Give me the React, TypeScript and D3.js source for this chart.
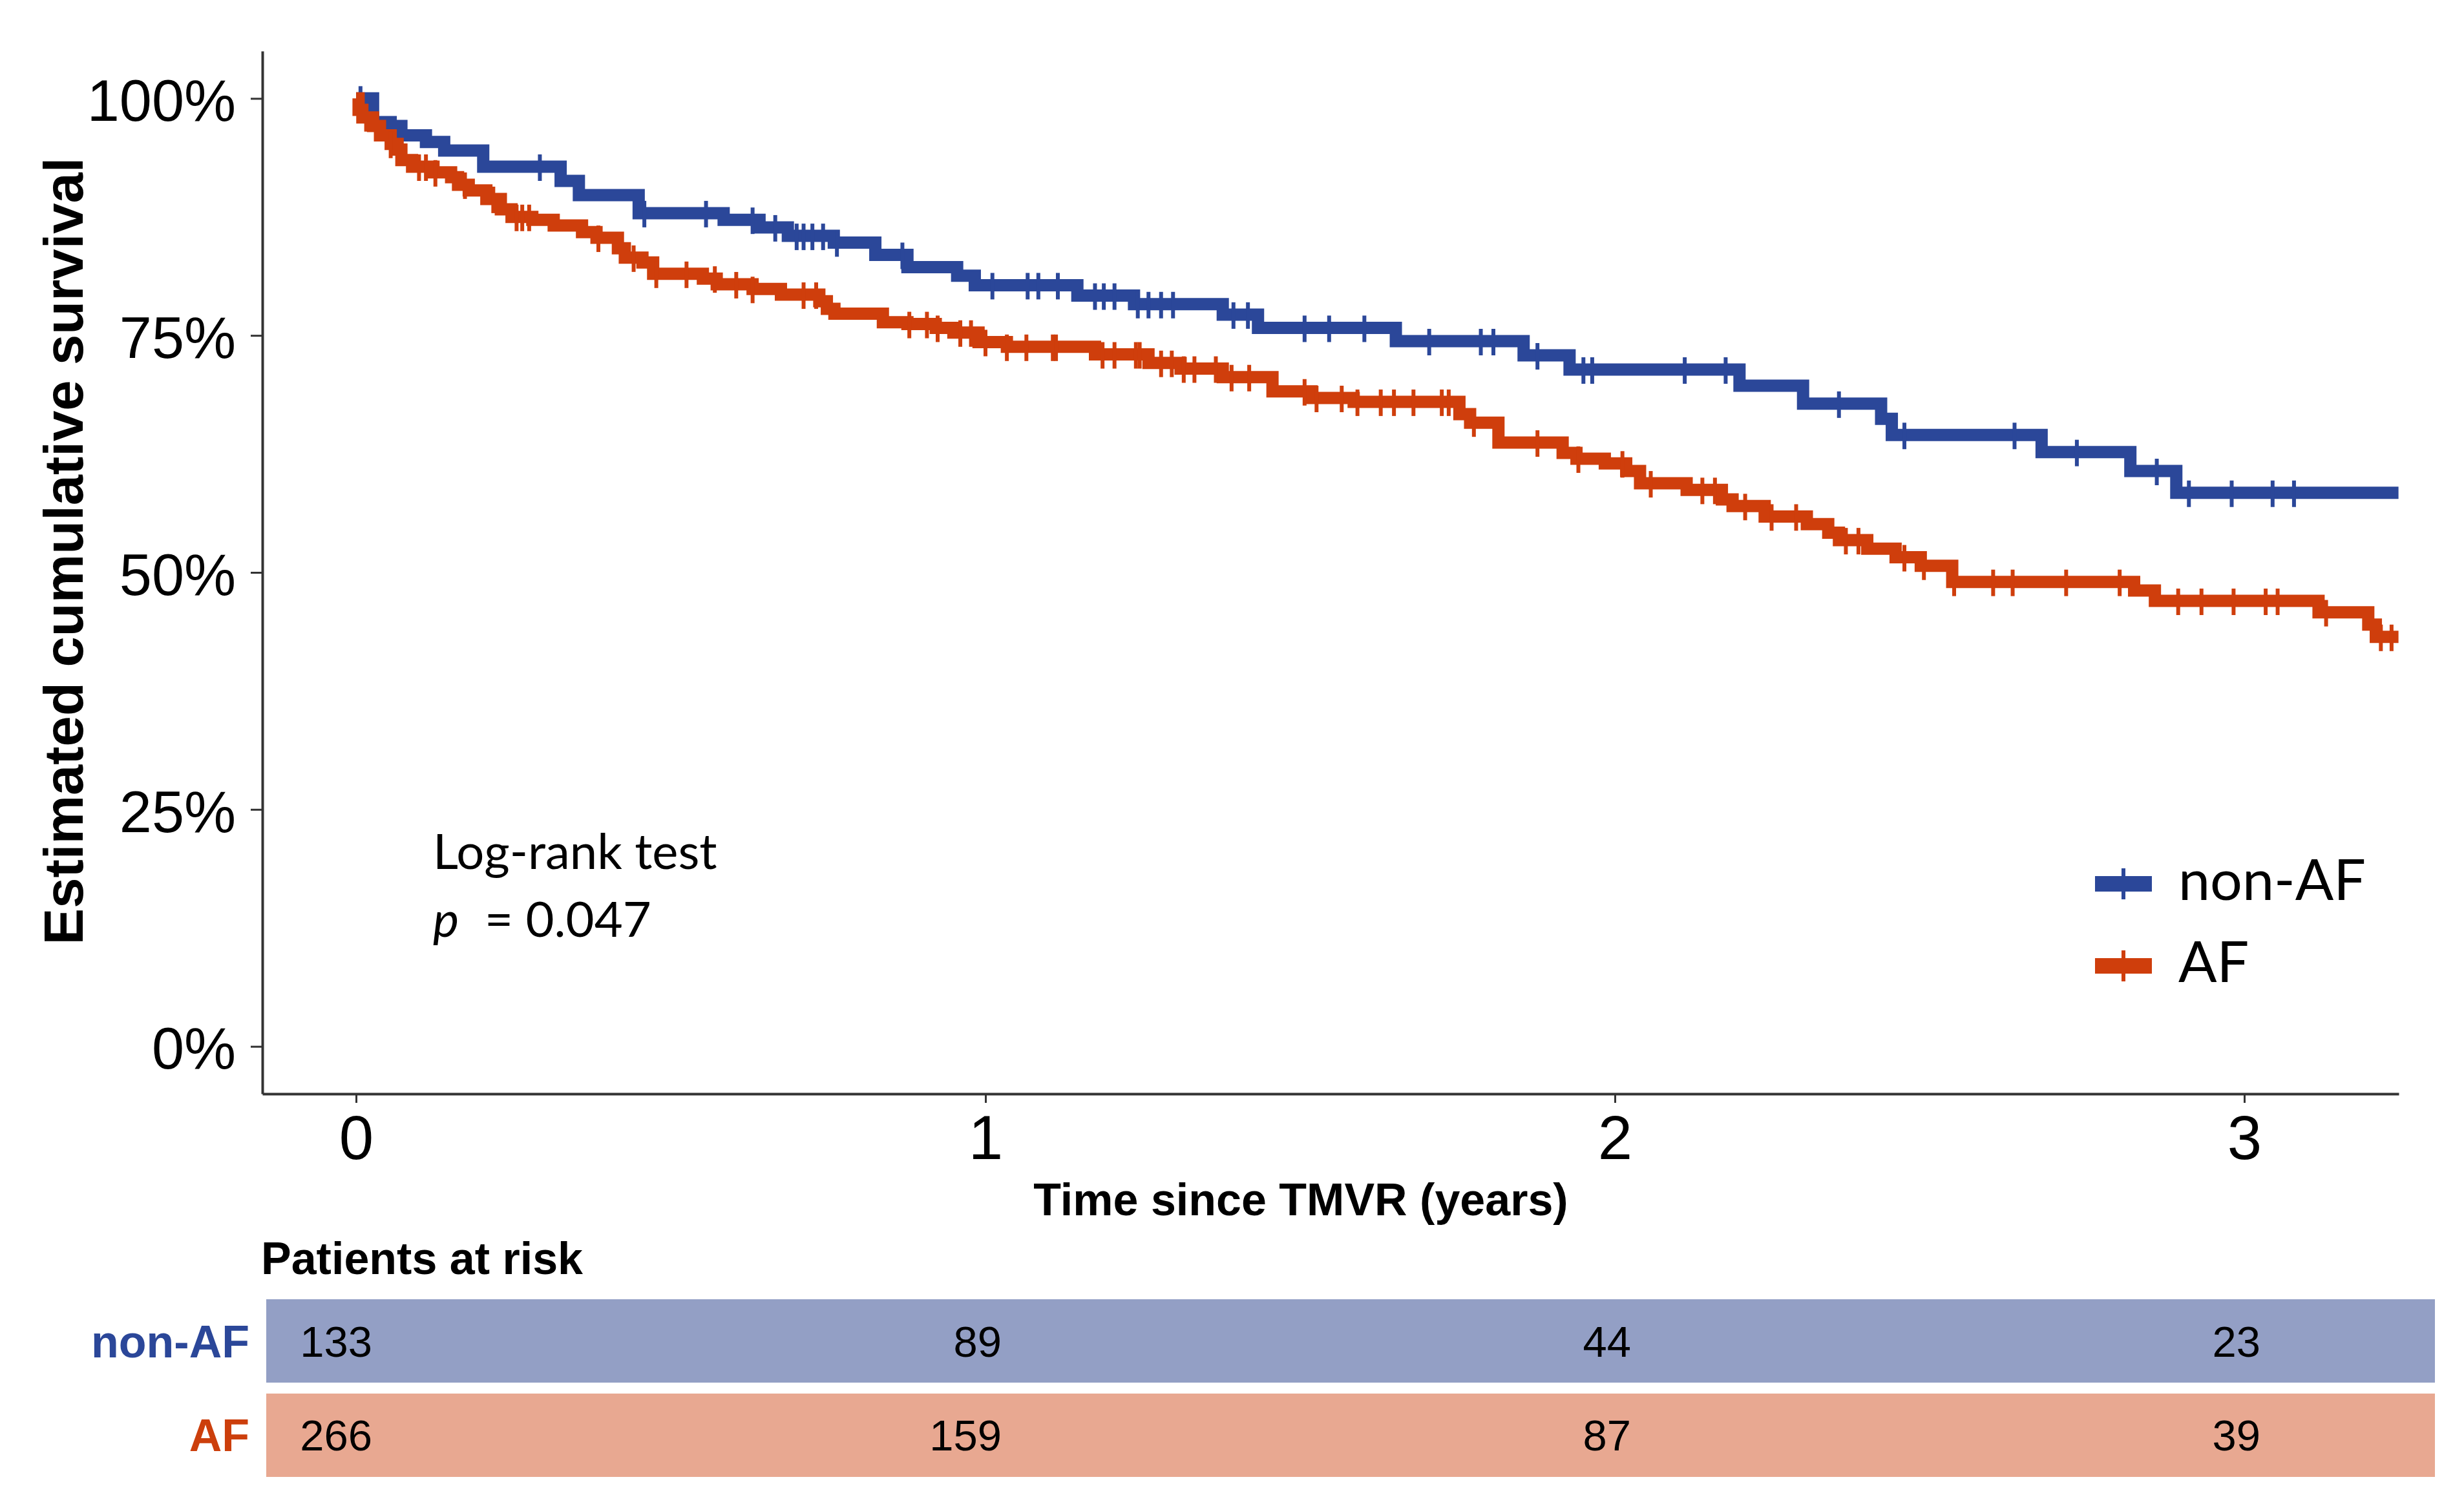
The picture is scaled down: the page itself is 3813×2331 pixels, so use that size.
import * as d3 from "d3";
import { useRef, useEffect } from "react";

const width = 3813;
const height = 2331;
const plotLeft = 406;
const plotRight = 3712;
const plotTop = 79;
const plotBottom = 1693;

const groups = ["non-AF", "AF"];
const lineColors = ["#2b4799", "#cf3e0c"];
const tableFills = ["#939fc5", "#e8a891"];
const labelColors = ["#2b4799", "#cc3f0c"];

// Kaplan-Meier steps (time in years, survival)
const nonAfTimes = [0, 0.027, 0.055, 0.072, 0.111, 0.14, 0.202, 0.325, 0.354, 0.449, 0.584, 0.641, 0.686, 0.759, 0.825, 0.876, 0.955, 0.983, 1.146, 1.236, 1.377, 1.433, 1.652, 1.855, 1.928, 2.198, 2.299, 2.423, 2.44, 2.678, 2.819, 2.892];
const nonAfSurv = [1, 0.975, 0.971, 0.961, 0.954, 0.945, 0.928, 0.913, 0.898, 0.879, 0.872, 0.864, 0.855, 0.848, 0.835, 0.822, 0.813, 0.803, 0.792, 0.783, 0.772, 0.758, 0.744, 0.729, 0.714, 0.697, 0.678, 0.662, 0.645, 0.627, 0.607, 0.584];
const nonAfCensor = [0.007, 0.292, 0.458, 0.556, 0.63, 0.666, 0.7, 0.711, 0.725, 0.742, 0.764, 0.868, 1.011, 1.067, 1.084, 1.115, 1.174, 1.188, 1.205, 1.242, 1.259, 1.279, 1.298, 1.394, 1.417, 1.507, 1.546, 1.602, 1.705, 1.787, 1.807, 1.877, 1.95, 1.964, 2.111, 2.176, 2.356, 2.46, 2.635, 2.734, 2.861, 2.912, 2.98, 3.045, 3.079];

const afTimes = [0, 0.004, 0.01, 0.027, 0.038, 0.055, 0.066, 0.072, 0.089, 0.123, 0.151, 0.162, 0.179, 0.207, 0.23, 0.247, 0.28, 0.314, 0.359, 0.382, 0.416, 0.427, 0.455, 0.472, 0.551, 0.573, 0.63, 0.675, 0.736, 0.748, 0.76, 0.837, 0.876, 0.921, 0.949, 0.989, 1.034, 1.174, 1.259, 1.31, 1.377, 1.456, 1.518, 1.585, 1.753, 1.77, 1.815, 1.917, 1.939, 1.984, 2.018, 2.04, 2.114, 2.17, 2.187, 2.238, 2.305, 2.339, 2.356, 2.401, 2.446, 2.486, 2.536, 2.825, 2.858, 3.118, 3.197, 3.209];
const afSurv = [1, 0.988, 0.98, 0.971, 0.961, 0.952, 0.946, 0.935, 0.928, 0.922, 0.917, 0.909, 0.903, 0.894, 0.883, 0.875, 0.872, 0.866, 0.859, 0.853, 0.842, 0.832, 0.827, 0.815, 0.81, 0.804, 0.799, 0.793, 0.786, 0.778, 0.773, 0.764, 0.762, 0.758, 0.753, 0.743, 0.738, 0.73, 0.721, 0.715, 0.706, 0.691, 0.684, 0.68, 0.667, 0.658, 0.637, 0.626, 0.62, 0.615, 0.607, 0.594, 0.587, 0.577, 0.57, 0.559, 0.551, 0.542, 0.534, 0.525, 0.516, 0.507, 0.49, 0.481, 0.47, 0.458, 0.445, 0.432];
const afCensor = [0.016, 0.055, 0.1, 0.111, 0.126, 0.173, 0.218, 0.255, 0.264, 0.275, 0.385, 0.441, 0.477, 0.525, 0.57, 0.604, 0.63, 0.711, 0.731, 0.879, 0.907, 0.924, 0.96, 0.977, 1.0, 1.034, 1.065, 1.107, 1.112, 1.186, 1.205, 1.239, 1.245, 1.279, 1.296, 1.315, 1.332, 1.366, 1.391, 1.419, 1.507, 1.526, 1.566, 1.591, 1.628, 1.649, 1.68, 1.725, 1.736, 1.776, 1.877, 1.942, 2.012, 2.057, 2.139, 2.159, 2.207, 2.249, 2.288, 2.367, 2.387, 2.46, 2.491, 2.539, 2.601, 2.632, 2.717, 2.802, 2.895, 2.932, 2.983, 3.034, 3.053, 3.13, 3.217, 3.234];

const followUpEnd = 3.245;

const xTicks = [0, 1, 2, 3];
const yTicks = [0, 0.25, 0.5, 0.75, 1];

const riskTimes = [0, 1, 2, 3];
const nonAfRisk = [133, 89, 44, 23];
const afRisk = [266, 159, 87, 39];

type Pt = { t: number; s: number };

const series = [
  { times: nonAfTimes, surv: nonAfSurv, censor: nonAfCensor, risk: nonAfRisk },
  { times: afTimes, surv: afSurv, censor: afCensor, risk: afRisk },
];

const App = () => {
  const gx = useRef<SVGGElement>(null);
  const gy = useRef<SVGGElement>(null);

  const x = d3.scaleLinear().domain([-0.1489, 3.2454]).range([plotLeft, plotRight]);
  const y = d3.scaleLinear().domain([-0.05, 1.05]).range([plotBottom, plotTop]);

  const rows = d3.scaleBand().domain(groups).range([2011, 2286]).paddingInner(0.116);

  useEffect(() => {
    if (gx.current) {
      const g = d3.select(gx.current);
      g.selectAll("*").remove();
      g.call(d3.axisBottom(x).tickValues(xTicks).tickFormat(d3.format("d")).tickSize(14).tickSizeOuter(0).tickPadding(19));
      g.select(".domain").attr("stroke", "#333").attr("stroke-width", 4);
      g.selectAll(".tick line").attr("stroke", "#333").attr("stroke-width", 3);
      g.selectAll(".tick text")
        .attr("font-size", 96)
        .attr("font-family", "'Liberation Sans', Arial, sans-serif")
        .attr("fill", "#000");
    }
    if (gy.current) {
      const g = d3.select(gy.current);
      g.selectAll("*").remove();
      g.call(d3.axisLeft(y).tickValues(yTicks).tickFormat(d3.format(".0%")).tickSize(18).tickSizeOuter(0).tickPadding(23));
      g.select(".domain").attr("stroke", "#333").attr("stroke-width", 4);
      g.selectAll(".tick line").attr("stroke", "#333").attr("stroke-width", 3);
      g.selectAll(".tick text")
        .attr("font-size", 90)
        .attr("font-family", "'Liberation Sans', Arial, sans-serif")
        .attr("fill", "#000")
        .attr("dy", "0.38em");
    }
  }, []);

  const lineBuilder = d3
    .line<Pt>()
    .x((d) => x(d.t))
    .y((d) => y(d.s))
    .curve(d3.curveStepAfter);

  const curves = series.map((sr, i) => {
    const pts: Pt[] = sr.times.map((t, k) => ({ t, s: sr.surv[k] }));
    pts.push({ t: followUpEnd, s: sr.surv[sr.surv.length - 1] });
    const bis = d3.bisector((d: number) => d).right;
    const marks = sr.censor.map((t) => {
      const k = Math.max(0, bis(sr.times, t) - 1);
      return { t, s: sr.surv[k] };
    });
    return (
      <g key={groups[i]}>
        <path
          d={lineBuilder(pts) as string}
          fill="none"
          stroke={lineColors[i]}
          strokeWidth={19}
          strokeLinejoin="miter"
          strokeLinecap="butt"
        />
        {marks.map((m, k) => (
          <line
            key={k}
            x1={x(m.t)}
            x2={x(m.t)}
            y1={y(m.s) - 19}
            y2={y(m.s) + 22}
            stroke={lineColors[i]}
            strokeWidth={6}
          />
        ))}
      </g>
    );
  });

  const legendY = [1368, 1495];

  return (
    <svg
      width={width}
      height={height}
      viewBox={`0 0 ${width} ${height}`}
      style={{ position: "absolute", left: 0, top: 0, background: "#fff" }}
      fontFamily="'Liberation Sans', Arial, sans-serif"
    >
      <rect x={0} y={0} width={width} height={height} fill="#fff" />

      {curves}

      <g ref={gx} transform={`translate(0, ${plotBottom})`} />
      <g ref={gy} transform={`translate(${plotLeft}, 0)`} />

      <text
        transform={`translate(128, 853) rotate(-90)`}
        textAnchor="middle"
        fontWeight="bold"
        fontSize={85}
        fill="#000"
      >
        Estimated cumulative survival
      </text>

      <text x={2013} y={1881} textAnchor="middle" fontWeight="bold" fontSize={70} fill="#000">
        Time since TMVR (years)
      </text>

      <g fontFamily="Lato, 'Open Sans', sans-serif" fill="#000">
        <text x={670} y={1345} fontSize={76}>
          Log-rank test
        </text>
        <text x={670} y={1450} fontSize={76}>
          <tspan fontStyle="italic">p</tspan>
          <tspan x={750}>= 0.047</tspan>
        </text>
      </g>

      {groups.map((gname, i) => (
        <g key={gname}>
          <line x1={3242} x2={3330} y1={legendY[i]} y2={legendY[i]} stroke={lineColors[i]} strokeWidth={24} />
          <line x1={3286} x2={3286} y1={legendY[i] - 24} y2={legendY[i] + 24} stroke={lineColors[i]} strokeWidth={6} />
          <text x={3371} y={legendY[i] + 25} fontSize={88} fontFamily="Lato, 'Open Sans', sans-serif" fill="#000">
            {gname}
          </text>
        </g>
      ))}

      <text x={404} y={1972} fontWeight="bold" fontSize={70} fill="#000">
        Patients at risk
      </text>

      {groups.map((gname, i) => {
        const top = rows(gname) as number;
        const mid = top + rows.bandwidth() / 2;
        return (
          <g key={gname}>
            <rect x={412} y={top} width={3768 - 412} height={rows.bandwidth()} fill={tableFills[i]} />
            <text x={386} y={mid + 25} textAnchor="end" fontWeight="bold" fontSize={70} fill={labelColors[i]}>
              {gname}
            </text>
            {riskTimes.map((t, k) => (
              <text key={k} x={x(t) + 25} y={mid + 24} textAnchor="end" fontSize={67} fill="#000">
                {series[i].risk[k]}
              </text>
            ))}
          </g>
        );
      })}
    </svg>
  );
};

export default App;
